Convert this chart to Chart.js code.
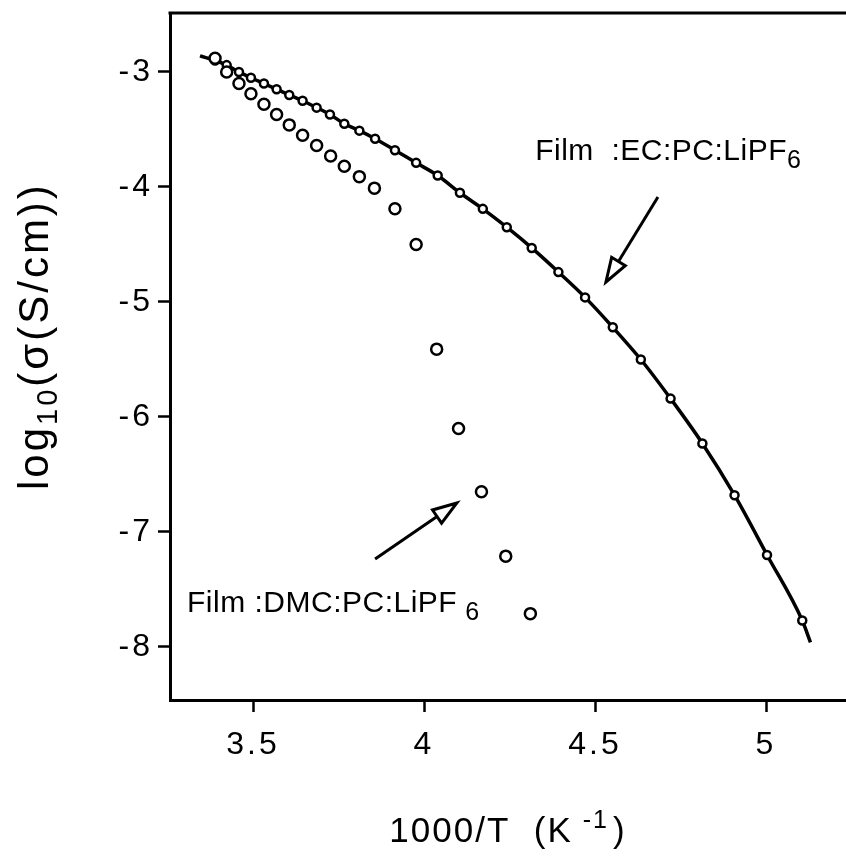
<!DOCTYPE html>
<html>
<head>
<meta charset="utf-8">
<script src="https://cdn.jsdelivr.net/npm/chart.js@4.4.1/dist/chart.umd.min.js"></script>
<style>
  html, body { margin: 0; padding: 0; background: #fff; }
  canvas { display: block; }
</style>
</head>
<body>
<canvas id="condChart" width="846" height="861"></canvas>
<script>
// Film EC:PC:LiPF6 (small markers on the fitted curve)
const ecX = [3.389, 3.423, 3.459, 3.494, 3.532, 3.569, 3.606, 3.645, 3.686, 3.725,
             3.767, 3.811, 3.857, 3.915, 3.977, 4.040, 4.105, 4.172, 4.242, 4.315,
             4.393, 4.471, 4.552, 4.634, 4.721, 4.814, 4.908, 5.003, 5.106];
const ecY = [-2.90, -2.94, -3.00, -3.05, -3.10, -3.15, -3.20, -3.25, -3.31, -3.37,
             -3.45, -3.51, -3.58, -3.68, -3.79, -3.90, -4.05, -4.19, -4.35, -4.53,
             -4.74, -4.96, -5.22, -5.50, -5.84, -6.23, -6.68, -7.20, -7.77];

// Film DMC:PC:LiPF6 (open circles)
const dmcX = [3.389, 3.423, 3.459, 3.494, 3.532, 3.569, 3.606, 3.645, 3.686, 3.727,
              3.767, 3.811, 3.855, 3.915, 3.977, 4.037, 4.101, 4.168, 4.239, 4.311];
const dmcY = [-2.88, -3.00, -3.10, -3.19, -3.28, -3.37, -3.46, -3.55, -3.64, -3.73,
              -3.82, -3.91, -4.01, -4.19, -4.50, -5.41, -6.10, -6.65, -7.21, -7.71];

// fitted curve
const fitX = [3.345, 3.389, 3.423, 3.459, 3.494, 3.532, 3.569, 3.606, 3.645, 3.686,
              3.725, 3.767, 3.811, 3.857, 3.915, 3.977, 4.040, 4.105, 4.172, 4.242,
              4.315, 4.393, 4.471, 4.552, 4.634, 4.721, 4.814, 4.908, 5.003, 5.106, 5.130];
const fitY = [-2.86, -2.90, -2.94, -3.00, -3.05, -3.10, -3.15, -3.20, -3.25, -3.31,
              -3.37, -3.45, -3.51, -3.58, -3.68, -3.79, -3.90, -4.05, -4.19, -4.35,
              -4.53, -4.74, -4.96, -5.22, -5.50, -5.84, -6.23, -6.68, -7.20, -7.77, -7.96];

const xTicks = [3.5, 4, 4.5, 5];
const xTickLabels = ['3.5', '4', '4.5', '5'];
const yTicks = [-8, -7, -6, -5, -4, -3];
const yTickLabels = ['-8', '-7', '-6', '-5', '-4', '-3'];

const FONT = '"Liberation Sans", Arial, Helvetica, sans-serif';

function toPoints(xs, ys) {
    return xs.map((x, i) => ({ x: x, y: ys[i] }));
}

// text labels and arrows (positions in data units)
const notes = [
    { text: 'Film  :EC:PC:LiPF', sub: '6', x: 4.325, y: -3.765, subGap: 0 },
    { text: 'Film :DMC:PC:LiPF', sub: '6', x: 3.307, y: -7.696, subGap: 8 }
];
const arrows = [
    { from: [4.684, -4.087], to: [4.532, -4.826] },
    { from: [3.857, -7.235], to: [4.096, -6.748] }
];

function drawArrow(ctx, x0, y0, x1, y1) {
    const ang = Math.atan2(y1 - y0, x1 - x0);
    const len = 24, half = 8;
    const bx = x1 - len * Math.cos(ang), by = y1 - len * Math.sin(ang);
    ctx.beginPath();
    ctx.moveTo(x0, y0);
    ctx.lineTo(bx, by);
    ctx.stroke();
    ctx.beginPath();
    ctx.moveTo(x1, y1);
    ctx.lineTo(bx + half * Math.sin(ang), by - half * Math.cos(ang));
    ctx.lineTo(bx - half * Math.sin(ang), by + half * Math.cos(ang));
    ctx.closePath();
    ctx.fillStyle = '#fff';
    ctx.fill();
    ctx.stroke();
}

function noPadding(s) {
    s.paddingTop = 0;
    s.paddingBottom = 0;
    s.paddingLeft = 0;
    s.paddingRight = 0;
}

const figureExtras = {
    id: 'figureExtras',
    beforeDraw(chart) {
        // the scanned labels are loosely tracked
        chart.ctx.letterSpacing = '3px';
    },
    afterDraw(chart) {
        const ctx = chart.ctx;
        const area = chart.chartArea;
        const xs = chart.scales.x, ys = chart.scales.y;
        ctx.save();
        ctx.strokeStyle = '#000';
        ctx.fillStyle = '#000';

        // top frame line
        ctx.lineWidth = 3;
        ctx.beginPath();
        ctx.moveTo(area.left - 1.5, area.top);
        ctx.lineTo(chart.width, area.top);
        ctx.stroke();

        // arrows
        ctx.lineWidth = 3;
        ctx.lineJoin = 'miter';
        arrows.forEach(a => {
            drawArrow(ctx,
                xs.getPixelForValue(a.from[0]), ys.getPixelForValue(a.from[1]),
                xs.getPixelForValue(a.to[0]), ys.getPixelForValue(a.to[1]));
        });

        // series labels
        ctx.fillStyle = '#000';
        ctx.textAlign = 'left';
        ctx.textBaseline = 'alphabetic';
        ctx.letterSpacing = '0.5px';
        notes.forEach(n => {
            const px = xs.getPixelForValue(n.x), py = ys.getPixelForValue(n.y);
            ctx.font = '30px ' + FONT;
            ctx.fillText(n.text, px, py);
            const w = ctx.measureText(n.text).width;
            ctx.font = '25px ' + FONT;
            ctx.fillText(n.sub, px + w + n.subGap, py + 8);
        });

        // x axis title: 1000/T (K^-1)
        ctx.letterSpacing = '2px';
        const xMain = '1000/T  (K', xSup = '-1', xEnd = ')';
        ctx.font = '35px ' + FONT;
        const wMain = ctx.measureText(xMain).width;
        const wEnd = ctx.measureText(xEnd).width;
        ctx.font = '25px ' + FONT;
        const wSup = ctx.measureText(xSup).width;
        const total = wMain + 10 + wSup + 4 + wEnd;
        let tx = (area.left + area.right) / 2 - total / 2;
        const ty = area.bottom + 142;
        ctx.font = '35px ' + FONT;
        ctx.fillText(xMain, tx, ty);
        tx += wMain + 10;
        ctx.font = '25px ' + FONT;
        ctx.fillText(xSup, tx, ty - 14);
        tx += wSup + 4;
        ctx.font = '35px ' + FONT;
        ctx.fillText(xEnd, tx, ty);

        // y axis title: log10(sigma(S/cm))
        ctx.save();
        ctx.translate(48, 490);
        ctx.rotate(-Math.PI / 2);
        ctx.letterSpacing = '3px';
        let yx = 0;
        ctx.font = '42px ' + FONT;
        ctx.fillText('log', yx, 0);
        yx += ctx.measureText('log').width;
        ctx.font = '29px ' + FONT;
        ctx.fillText('10', yx, 9);
        yx += ctx.measureText('10').width;
        ctx.font = '42px ' + FONT;
        ctx.fillText('(σ(S/cm))', yx, 0);
        ctx.restore();

        ctx.restore();
    }
};

new Chart(document.getElementById('condChart'), {
    type: 'scatter',
    data: {
        datasets: [{
            label: 'fit',
            data: toPoints(fitX, fitY),
            showLine: true,
            cubicInterpolationMode: 'monotone',
            borderColor: '#000',
            borderWidth: 3.5,
            pointRadius: 0,
            order: 3
        }, {
            label: 'Film :EC:PC:LiPF6',
            data: toPoints(ecX, ecY),
            showLine: false,
            pointStyle: 'circle',
            pointRadius: 4,
            pointBorderWidth: 2.5,
            pointBackgroundColor: '#fff',
            pointBorderColor: '#000',
            order: 2
        }, {
            label: 'Film :DMC:PC:LiPF6',
            data: toPoints(dmcX, dmcY),
            showLine: false,
            pointStyle: 'circle',
            pointRadius: 5.5,
            pointBorderWidth: 2.5,
            pointBackgroundColor: '#fff',
            pointBorderColor: '#000',
            order: 1
        }]
    },
    options: {
        responsive: false,
        animation: false,
        events: [],
        layout: { autoPadding: false, padding: { top: 13, right: 0, left: 0, bottom: 0 } },
        plugins: {
            legend: { display: false },
            tooltip: { enabled: false }
        },
        scales: {
            x: {
                type: 'linear',
                position: 'bottom',
                min: 3.2573,
                max: 5.2339,
                afterBuildTicks: s => { s.ticks = xTicks.map(v => ({ value: v })); },
                afterFit: s => { s.height = 161; noPadding(s); },
                grid: {
                    drawOnChartArea: false,
                    drawTicks: true,
                    tickLength: 12,
                    tickWidth: 2.5,
                    color: '#000'
                },
                border: { display: true, color: '#000', width: 3 },
                ticks: {
                    color: '#000',
                    padding: 14,
                    maxRotation: 0,
                    font: { family: FONT, size: 32 },
                    callback: v => xTickLabels[xTicks.indexOf(v)]
                }
            },
            y: {
                type: 'linear',
                min: -8.461,
                max: -2.487,
                afterBuildTicks: s => { s.ticks = yTicks.map(v => ({ value: v })); },
                afterFit: s => { s.width = 170; noPadding(s); },
                grid: {
                    drawOnChartArea: false,
                    drawTicks: true,
                    tickLength: 12,
                    tickWidth: 2.5,
                    color: '#000'
                },
                border: { display: true, color: '#000', width: 3 },
                ticks: {
                    color: '#000',
                    padding: 5,
                    font: { family: FONT, size: 32 },
                    callback: v => yTickLabels[yTicks.indexOf(v)]
                }
            }
        }
    },
    plugins: [figureExtras]
});
</script>
</body>
</html>
